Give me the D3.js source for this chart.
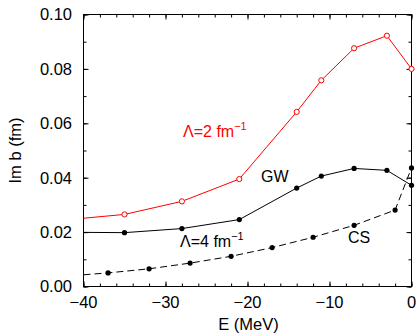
<!DOCTYPE html>
<html>
<head>
<meta charset="utf-8">
<script src="https://cdn.jsdelivr.net/npm/d3@7"></script>
<style>
  html, body { margin: 0; padding: 0; background: #fff; }
  svg { display: block; font-family: "Liberation Sans", Arial, Helvetica, sans-serif; }
</style>
</head>
<body>
<div id="chart"></div>
<script>
// 読み取った値 (E in MeV, Im b in fm)
const energyGW = [-40, -35, -28, -21, -14, -11, -7, -3, 0];
const imbLambda2 = [0.0251, 0.0265, 0.0313, 0.0395, 0.0642, 0.0758, 0.0876, 0.0922, 0.0800];
const imbLambda4 = [0.0199, 0.0198, 0.0213, 0.0246, 0.0362, 0.0406, 0.0434, 0.0427, 0.0372];
const energyCS = [-40, -37, -32, -27, -22, -17, -12, -7, -2, 0];
const imbCS = [0.0043, 0.0050, 0.0065, 0.0086, 0.0111, 0.0143, 0.0181, 0.0225, 0.0281, 0.0436];

const xMajor = [-40, -30, -20, -10, 0];
const yMajor = [0, 0.02, 0.04, 0.06, 0.08, 0.10];

const W = 417, H = 335;
const pLeft = 83.5, pRight = 411.5, pTop = 14.5, pBottom = 286.5;
const fs = 16.5;

const svg = d3.select("#chart").append("svg")
  .attr("width", W).attr("height", H);

const xScale = d3.scaleLinear().domain([-40, 0]).range([pLeft, pRight]);
const yScale = d3.scaleLinear().domain([0, 0.10]).range([pBottom, pTop]);

// 目盛り (内向き, 4辺)
function drawTicks(g, axis) {
  g.call(axis);
  g.select(".domain").remove();
  g.selectAll("line").attr("stroke", "#000").attr("stroke-width", 1);
}
const xMinor = d3.range(-40, 0.1, 2);
const yMinor = d3.range(0, 0.1001, 0.01);

svg.append("g").attr("transform", `translate(0,${pBottom})`)
  .call(g => drawTicks(g, d3.axisTop(xScale).tickValues(xMinor).tickSize(3).tickFormat("")));
svg.append("g").attr("transform", `translate(0,${pBottom})`)
  .call(g => drawTicks(g, d3.axisTop(xScale).tickValues(xMajor).tickSize(5).tickFormat("")));
svg.append("g").attr("transform", `translate(0,${pTop})`)
  .call(g => drawTicks(g, d3.axisBottom(xScale).tickValues(xMinor).tickSize(3).tickFormat("")));
svg.append("g").attr("transform", `translate(0,${pTop})`)
  .call(g => drawTicks(g, d3.axisBottom(xScale).tickValues(xMajor).tickSize(5).tickFormat("")));
svg.append("g").attr("transform", `translate(${pLeft},0)`)
  .call(g => drawTicks(g, d3.axisRight(yScale).tickValues(yMinor).tickSize(3).tickFormat("")));
svg.append("g").attr("transform", `translate(${pLeft},0)`)
  .call(g => drawTicks(g, d3.axisRight(yScale).tickValues(yMajor).tickSize(5).tickFormat("")));
svg.append("g").attr("transform", `translate(${pRight},0)`)
  .call(g => drawTicks(g, d3.axisLeft(yScale).tickValues(yMinor).tickSize(3).tickFormat("")));
svg.append("g").attr("transform", `translate(${pRight},0)`)
  .call(g => drawTicks(g, d3.axisLeft(yScale).tickValues(yMajor).tickSize(5).tickFormat("")));

// 枠
svg.append("rect")
  .attr("x", pLeft).attr("y", pTop)
  .attr("width", pRight - pLeft).attr("height", pBottom - pTop)
  .attr("fill", "none").attr("stroke", "#000").attr("stroke-width", 1);

// 目盛りラベル
svg.append("g").selectAll("text").data(xMajor).join("text")
  .attr("x", d => xScale(d)).attr("y", 307.5)
  .attr("text-anchor", "middle").attr("font-size", fs)
  .text(d => d3.format("d")(d));
svg.append("g").selectAll("text").data(yMajor).join("text")
  .attr("x", 72).attr("y", d => yScale(d) + 5.8)
  .attr("text-anchor", "end").attr("font-size", fs)
  .text(d => d3.format(".2f")(d));

// 軸タイトル
svg.append("text")
  .attr("x", (pLeft + pRight) / 2 + 1).attr("y", 330)
  .attr("text-anchor", "middle").attr("font-size", fs)
  .text("E (MeV)");
svg.append("text")
  .attr("transform", "translate(20.5,150.5) rotate(-90)")
  .attr("text-anchor", "middle").attr("font-size", fs)
  .text("Im b (fm)");

// 線
const line = d3.line()
  .x(d => xScale(d[0]))
  .y(d => yScale(d[1]));

const red = d3.zip(energyGW, imbLambda2);
const gw = d3.zip(energyGW, imbLambda4);
const cs = d3.zip(energyCS, imbCS);

svg.append("path").datum(red)
  .attr("fill", "none").attr("stroke", "#ff0000").attr("stroke-width", 1)
  .attr("d", line);
svg.append("path").datum(gw)
  .attr("fill", "none").attr("stroke", "#000").attr("stroke-width", 1)
  .attr("d", line);
svg.append("path").datum(cs)
  .attr("fill", "none").attr("stroke", "#000").attr("stroke-width", 1)
  .attr("stroke-dasharray", "7,4")
  .attr("d", line);

// マーカー (左端の点は描かない)
svg.append("g").selectAll("circle").data(red.filter(d => d[0] > -40)).join("circle")
  .attr("cx", d => xScale(d[0])).attr("cy", d => yScale(d[1])).attr("r", 2.6)
  .attr("fill", "#fff").attr("stroke", "#ff0000").attr("stroke-width", 1);
svg.append("g").selectAll("circle").data(gw.filter(d => d[0] > -40)).join("circle")
  .attr("cx", d => xScale(d[0])).attr("cy", d => yScale(d[1])).attr("r", 2.6)
  .attr("fill", "#000");
svg.append("g").selectAll("circle").data(cs.filter(d => d[0] > -40)).join("circle")
  .attr("cx", d => xScale(d[0])).attr("cy", d => yScale(d[1])).attr("r", 2.6)
  .attr("fill", "#000");

// ラベル
function lambdaLabel(x, y, n, color) {
  const t = svg.append("text").attr("x", x).attr("y", y)
    .attr("font-size", 16).attr("fill", color);
  t.append("tspan").text(`Λ=${n} fm`);
  t.append("tspan").attr("font-size", 11).attr("dy", -7).text("−1");
}
lambdaLabel(183, 136.5, 2, "#ff0000");
lambdaLabel(180, 247, 4, "#000");

svg.append("text").attr("x", 261).attr("y", 181.5)
  .attr("font-size", 16).text("GW");
svg.append("text").attr("x", 348).attr("y", 242.5)
  .attr("font-size", 16).text("CS");
</script>
</body>
</html>
